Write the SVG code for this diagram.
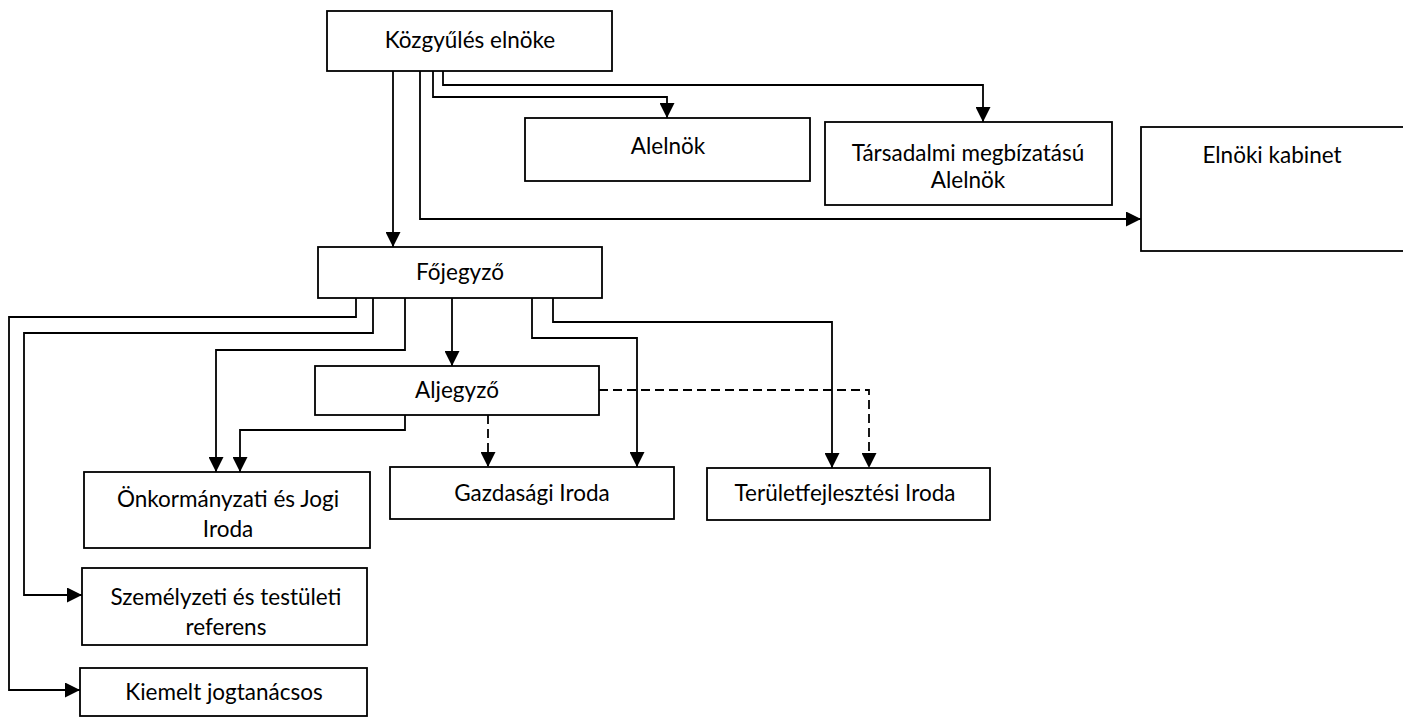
<svg xmlns="http://www.w3.org/2000/svg" width="1403" height="717" viewBox="0 0 1403 717">
<style>
.box{fill:#fff;stroke:#000;stroke-width:1.8}
.t{font-family:Lato,"Liberation Sans",sans-serif;font-size:22.5px;fill:#000;text-anchor:middle}
.c{fill:none;stroke:#000;stroke-width:1.8;marker-end:url(#ah)}
.d{stroke-dasharray:9,5}
</style>
<defs>
<marker id="ah" markerUnits="userSpaceOnUse" markerWidth="15" markerHeight="15" refX="15" refY="7.5" orient="auto">
<path d="M0,0 L15,7.5 L0,15 z" fill="#000"/>
</marker>
</defs>
<rect width="1403" height="717" fill="#fff"/>
<g id="connectors">
<path class="c" d="M393,71 V247"/>
<path class="c" d="M420,71 V219 H1141"/>
<path class="c" d="M433,71 V97 H667 V118"/>
<path class="c" d="M443,71 V85 H983 V122"/>
<path class="c" d="M356,298 V317 H9 V690 H80"/>
<path class="c" d="M373,298 V333 H24 V595 H82"/>
<path class="c" d="M405,298 V350 H216 V472"/>
<path class="c" d="M452,298 V366"/>
<path class="c" d="M532,298 V338 H637 V467"/>
<path class="c" d="M553,298 V322 H832 V468"/>
<path class="c" d="M405,415 V430 H240 V472"/>
<path class="c d" d="M488,415 V467"/>
<path class="c d" d="M599,390 H869 V468"/>
</g>
<g id="kozgyules">
<rect class="box" x="327" y="11" width="285" height="60"/>
<text class="t" x="470" y="48">Közgyűlés elnöke</text>
</g>
<g id="alelnok">
<rect class="box" x="525" y="118" width="285" height="63"/>
<text class="t" x="668" y="154">Alelnök</text>
</g>
<g id="tarsadalmi">
<rect class="box" x="825" y="122" width="287" height="83"/>
<text class="t" x="968" y="161">Társadalmi megbízatású</text>
<text class="t" x="968" y="188">Alelnök</text>
</g>
<g id="elnoki">
<rect class="box" x="1141" y="127" width="300" height="124"/>
<text class="t" x="1272" y="163">Elnöki kabinet</text>
</g>
<g id="fojegyzo">
<rect class="box" x="318" y="247" width="284" height="51"/>
<text class="t" x="460" y="280">Főjegyző</text>
</g>
<g id="aljegyzo">
<rect class="box" x="315" y="366" width="284" height="49"/>
<text class="t" x="457" y="398">Aljegyző</text>
</g>
<g id="onkormanyzati">
<rect class="box" x="84" y="472" width="286" height="76"/>
<text class="t" x="228" y="507">Önkormányzati és Jogi</text>
<text class="t" x="228" y="537">Iroda</text>
</g>
<g id="gazdasagi">
<rect class="box" x="390" y="467" width="284" height="52"/>
<text class="t" x="532" y="501">Gazdasági Iroda</text>
</g>
<g id="teruletfejlesztesi">
<rect class="box" x="707" y="468" width="283" height="52"/>
<text class="t" x="845" y="501">Területfejlesztési Iroda</text>
</g>
<g id="szemelyzeti">
<rect class="box" x="82" y="568" width="285" height="77"/>
<text class="t" x="226" y="605">Személyzeti és testületi</text>
<text class="t" x="226" y="635">referens</text>
</g>
<g id="kiemelt">
<rect class="box" x="80" y="668" width="287" height="48"/>
<text class="t" x="224" y="700">Kiemelt jogtanácsos</text>
</g>
</svg>
